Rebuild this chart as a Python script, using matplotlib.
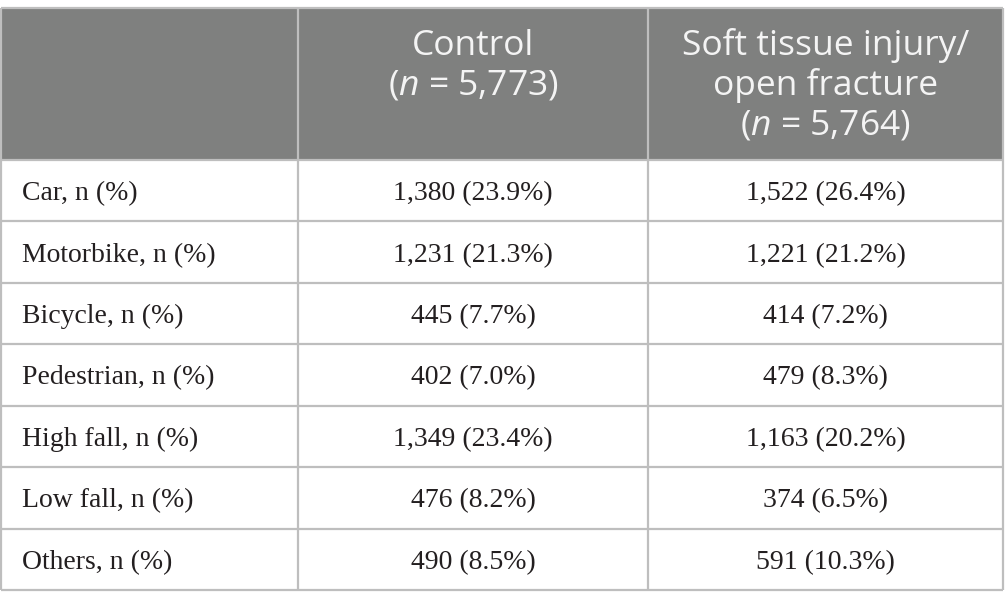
import matplotlib
matplotlib.use("Agg")
import matplotlib.pyplot as plt
from matplotlib.patches import Rectangle

# datos de la tabla
row_labels = ["Car, n (%)", "Motorbike, n (%)", "Bicycle, n (%)", "Pedestrian, n (%)",
              "High fall, n (%)", "Low fall, n (%)", "Others, n (%)"]
control_vals = ["1,380 (23.9%)", "1,231 (21.3%)", "445 (7.7%)", "402 (7.0%)",
                "1,349 (23.4%)", "476 (8.2%)", "490 (8.5%)"]
soft_vals = ["1,522 (26.4%)", "1,221 (21.2%)", "414 (7.2%)", "479 (8.3%)",
             "1,163 (20.2%)", "374 (6.5%)", "591 (10.3%)"]
header_control = ["Control", "($\\mathit{n}$ = 5,773)"]
header_soft = ["Soft tissue injury/", "open fracture", "($\\mathit{n}$ = 5,764)"]

hfam = "Open Sans"
plt.rcParams["mathtext.fontset"] = "custom"
plt.rcParams["mathtext.rm"] = hfam
plt.rcParams["mathtext.it"] = hfam + ":italic"

W, H = 1005, 608
fig = plt.figure(figsize=(W / 100, H / 100), dpi=100)
ax = fig.add_axes([0, 0, 1, 1])
ax.set_xlim(0, W)
ax.set_ylim(H, 0)
ax.axis("off")

# geometria (pixeles)
col_x = [1, 298, 648, 1003]
top = 8
head_bot = 160
row_h = (590 - head_bot) / len(row_labels)
line_c = "#bebebe"

ax.add_patch(Rectangle((col_x[0], top), col_x[-1] - col_x[0], head_bot - top,
                       facecolor="#7f807f", edgecolor="none"))

# lineas horizontales y verticales
ys = [top, head_bot] + [head_bot + row_h * (i + 1) for i in range(len(row_labels))]
for y in ys:
    ax.plot([col_x[0], col_x[-1]], [y, y], color=line_c, lw=1.6, solid_capstyle="butt")
for x in col_x:
    ax.plot([x, x], [top, ys[-1]], color=line_c, lw=1.6, solid_capstyle="butt")

# encabezado
hfont = dict(family=hfam, fontsize=25.5, color="#f4f4f4", ha="center", va="baseline")
c2 = (col_x[1] + col_x[2]) / 2
c3 = (col_x[2] + col_x[3]) / 2
for i, t in enumerate(header_control):
    ax.text(c2, 55 + 40 * i, t, **hfont)
for i, t in enumerate(header_soft):
    ax.text(c3, 55 + 40 * i, t, **hfont)

# cuerpo
bfont = dict(family="Liberation Serif", fontsize=20, color="#231f20", va="center_baseline")
for i in range(len(row_labels)):
    yc = head_bot + row_h * (i + 0.5)
    ax.text(22, yc, row_labels[i], ha="left", **bfont)
    ax.text(c2, yc, control_vals[i], ha="center", **bfont)
    ax.text(c3, yc, soft_vals[i], ha="center", **bfont)

fig.savefig("out.png", dpi=100)
